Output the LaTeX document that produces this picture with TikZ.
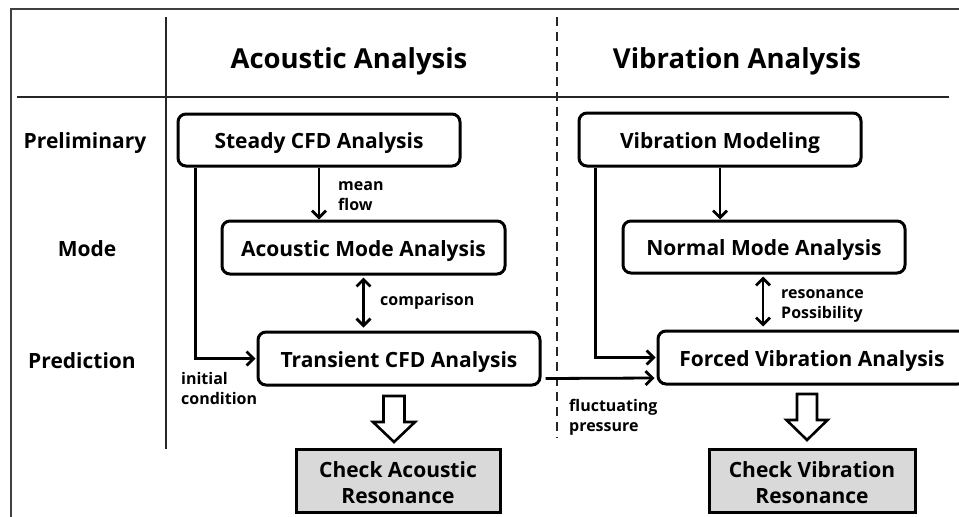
\documentclass[tikz,border=0pt]{standalone}
\usepackage{fontspec}
\setmainfont{Open Sans}
\usetikzlibrary{arrows.meta,calc}
\tikzset{
  boxstyle/.style={draw=black, line width=3pt, rounded corners=8pt, fill=white, inner sep=0pt,
    font=\fontsize{21}{26}\selectfont\bfseries, align=center, text height=17pt, text depth=0pt},
  checkbox/.style={draw=black, line width=3pt, fill=black!15, inner sep=0pt,
    font=\fontsize{21}{26}\selectfont\bfseries, align=center, text height=45pt, text depth=0pt},
  rowlab/.style={font=\fontsize{21}{26}\selectfont\bfseries, inner sep=0pt, text height=16pt, text depth=0pt},
  titlelab/.style={font=\fontsize{27.5}{32}\selectfont\bfseries, inner sep=0pt, text height=21pt, text depth=0pt},
  smalllab/.style={font=\fontsize{16}{20}\selectfont\bfseries, inner sep=0pt, align=left, anchor=base west},
  conn/.style={line width=2.8pt, -{Straight Barb[length=7pt,width=14pt,line width=2.8pt]}},
  dconn/.style={line width=2.8pt, {Straight Barb[length=7pt,width=14pt,line width=2.8pt]}-{Straight Barb[length=7pt,width=14pt,line width=2.8pt]}},
  blockarrow/.style={draw=black, line width=2.6pt, fill=white, line join=miter},
  gridline/.style={line width=2pt, draw=black!85},
}
\begin{document}
\begin{tikzpicture}[x=1pt,y=-1pt]
\useasboundingbox (0,0) rectangle (959,517);
\clip (0,0) rectangle (959,517);
\fill[white] (0,0) rectangle (959,517);
% frame
\draw[line width=2pt, draw=black!75] (11,9) rectangle (975,540);
% grid
\coordinate (vtop) at (166,17);
\coordinate (vbot) at (166,449);
\coordinate (hl) at (17,97);
\coordinate (hr) at (949,97);
\coordinate (dtop) at (557,17);
\coordinate (dbot) at (557,438);
\draw[gridline] (vtop) -- (vbot);
\draw[gridline] (hl) -- (hr);
\draw[gridline, dash pattern=on 9pt off 6pt] (dtop) -- (dbot);
% titles
\node[titlelab] (tA) at (349,57.5) {Acoustic Analysis};
\node[titlelab] (tV) at (737,57.5) {Vibration Analysis};
% row labels
\node[rowlab] (rP) at (85,140) {Preliminary};
\node[rowlab] (rM) at (87,248) {Mode};
\node[rowlab] (rPr) at (82,360) {Prediction};
% boxes
\node[boxstyle, minimum width=282pt, minimum height=52pt] (steady) at (319,140) {Steady CFD Analysis};
\node[boxstyle, minimum width=283pt, minimum height=53pt] (acmode) at (363.5,247.5) {Acoustic Mode Analysis};
\node[boxstyle, minimum width=282pt, minimum height=53pt] (trans) at (399,358.5) {Transient CFD Analysis};
\node[boxstyle, minimum width=282pt, minimum height=53pt] (vibmod) at (720,139.5) {Vibration Modeling};
\node[boxstyle, minimum width=282pt, minimum height=52pt] (normal) at (764,247) {Normal Mode Analysis};
\node[boxstyle, minimum width=308pt, minimum height=53pt] (forced) at (812,357.5) {Forced Vibration Analysis};
\node[checkbox, minimum width=204pt, minimum height=63pt] (checkA) at (398,480.5) {Check Acoustic\\Resonance};
\node[checkbox, minimum width=206pt, minimum height=63pt] (checkV) at (812,480.5) {Check Vibration\\Resonance};
% connectors
\draw[conn] (steady.south) -- (steady.south |- acmode.north);
\draw[conn] ($(steady.south west)+(19,0)$) |- ([xshift=-1pt]trans.west);
\draw[dconn, shorten <=2pt, shorten >=3pt] (acmode.south) -- (acmode.south |- trans.north);
\draw[conn] ($(trans.east)+(4,20)$) -- ($(forced.west)+(-2,20.5)$);
\draw[conn] (vibmod.south) -- (vibmod.south |- normal.north);
\draw[conn] ($(vibmod.south west)+(18,0)$) |- ([xshift=-1pt]forced.west);
\draw[dconn, shorten <=2pt, shorten >=3pt] ([xshift=-1pt]normal.south) -- ([xshift=-1pt]normal.south |- forced.north);
% labels (anchored at the baseline of the last line)
\node[smalllab] (lmean) at (338,210) {mean\\flow};
\node[smalllab] (linit) at (181,404) {initial\\condition};
\node[smalllab] (lcomp) at (380,305) {comparison};
\node[smalllab] (lfluc) at (569,431) {fluctuating\\pressure};
\node[smalllab] (lres) at (781,318) {resonance\\Possibility};
% block arrows
\coordinate (bA) at (394,396);
\draw[blockarrow] (bA) ++(-10.5,0) -- ++(21,0) -- ++(0,26) -- ++(10.5,0) -- ++(-21,20) -- ++(-21,-20) -- ++(10.5,0) -- cycle;
\coordinate (bV) at (807,394);
\draw[blockarrow] (bV) ++(-10,0) -- ++(20,0) -- ++(0,26) -- ++(10.5,0) -- ++(-20.5,20) -- ++(-20.5,-20) -- ++(10.5,0) -- cycle;
\end{tikzpicture}
\end{document}
